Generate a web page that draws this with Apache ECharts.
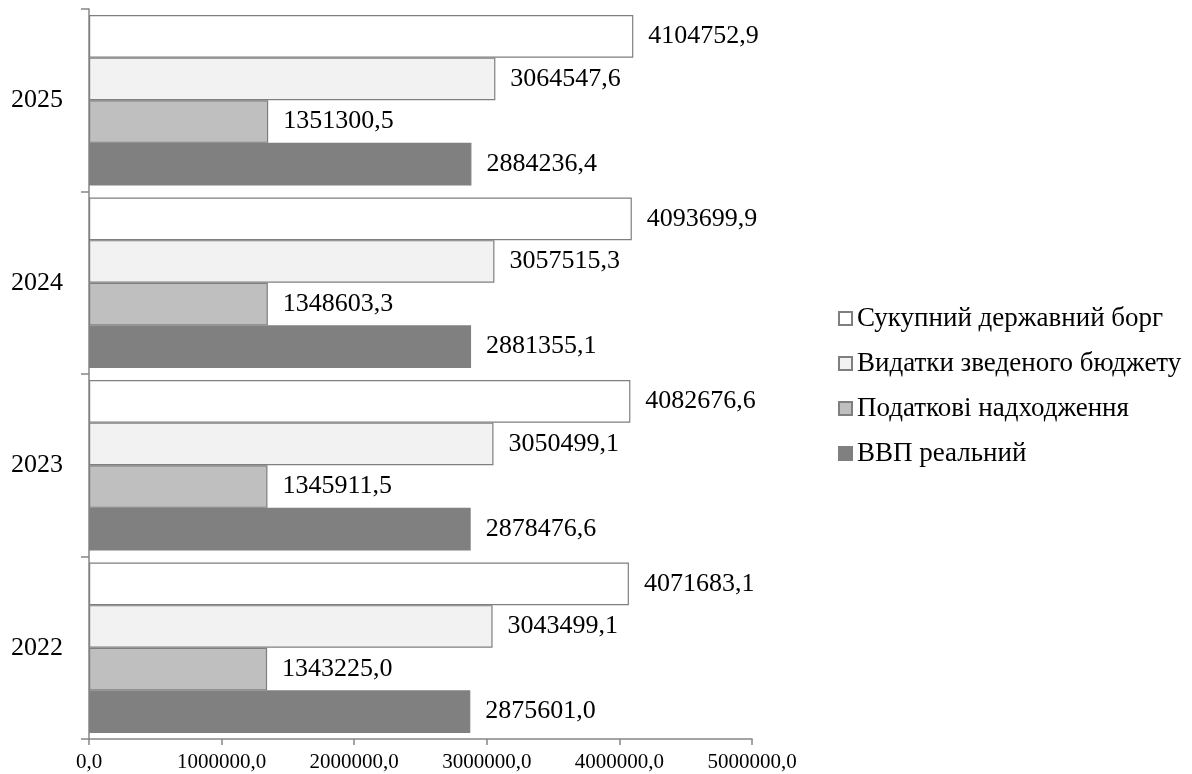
<!DOCTYPE html>
<html>
<head>
<meta charset="utf-8">
<script src="https://cdn.jsdelivr.net/npm/echarts@6/dist/echarts.min.js"></script>
<style>
  html, body { margin: 0; padding: 0; background: #ffffff; }
  #chart { width: 1192px; height: 774px; }
</style>
</head>
<body>
<div id="chart"></div>
<script>
// Роки (знизу вгору)
const years = ['2022', '2023', '2024', '2025'];

// Показники, грн
const gdpReal      = [2875601.0, 2878476.6, 2881355.1, 2884236.4];
const taxRevenue   = [1343225.0, 1345911.5, 1348603.3, 1351300.5];
const budgetSpend  = [3043499.1, 3050499.1, 3057515.3, 3064547.6];
const publicDebt   = [4071683.1, 4082676.6, 4093699.9, 4104752.9];

const seriesNames = {
  gdp: 'ВВП реальний',
  tax: 'Податкові надходження',
  spend: 'Видатки зведеного бюджету',
  debt: 'Сукупний державний борг'
};

const FONT = '"Liberation Serif", "Times New Roman", serif';
const AXIS_COLOR = '#868686';
const EDGE = '#7f7f7f';

function fmt(v) {
  return v.toFixed(1).replace('.', ',');
}

function barSeries(name, data, fill, border) {
  return {
    name: name,
    type: 'bar',
    data: data,
    barGap: '0%',
    barCategoryGap: '6.6%',
    itemStyle: { color: fill, borderColor: border, borderWidth: 1.2 },
    label: {
      show: true,
      position: 'right',
      distance: 15,
      fontFamily: FONT,
      fontSize: 26,
      color: '#000000',
      formatter: p => fmt(p.value)
    },
    emphasis: { disabled: true }
  };
}

const chart = echarts.init(document.getElementById('chart'), null, { renderer: 'canvas' });

chart.setOption({
  animation: false,
  backgroundColor: '#ffffff',
  grid: { left: 89, right: 440, top: 9, bottom: 35, containLabel: false },
  legend: {
    orient: 'vertical',
    left: 838,
    top: 305,
    padding: 0,
    itemWidth: 13,
    itemHeight: 13,
    itemGap: 18,
    icon: 'rect',
    textStyle: { fontFamily: FONT, fontSize: 27, color: '#000000' },
    data: [seriesNames.debt, seriesNames.spend, seriesNames.tax, seriesNames.gdp]
  },
  xAxis: {
    type: 'value',
    min: 0,
    max: 5000000,
    interval: 1000000,
    splitLine: { show: false },
    axisLine: { show: true, lineStyle: { color: AXIS_COLOR, width: 1.5 } },
    axisTick: { show: true, length: 6, lineStyle: { color: AXIS_COLOR, width: 1.5 } },
    axisLabel: {
      fontFamily: FONT,
      fontSize: 21,
      color: '#000000',
      margin: 13,
      formatter: v => fmt(v)
    }
  },
  yAxis: {
    type: 'category',
    data: years,
    axisLine: { show: true, lineStyle: { color: AXIS_COLOR, width: 1.5 } },
    axisTick: { show: true, length: 8, inside: false, lineStyle: { color: AXIS_COLOR, width: 1.5 } },
    axisLabel: { fontFamily: FONT, fontSize: 26, color: '#000000', margin: 26 },
    splitLine: { show: false }
  },
  // у кожній групі перша серія малюється найвище
  series: [
    barSeries(seriesNames.debt, publicDebt, '#ffffff', EDGE),
    barSeries(seriesNames.spend, budgetSpend, '#f2f2f2', EDGE),
    barSeries(seriesNames.tax, taxRevenue, '#bfbfbf', EDGE),
    barSeries(seriesNames.gdp, gdpReal, '#808080', '#808080')
  ]
});
</script>
</body>
</html>
